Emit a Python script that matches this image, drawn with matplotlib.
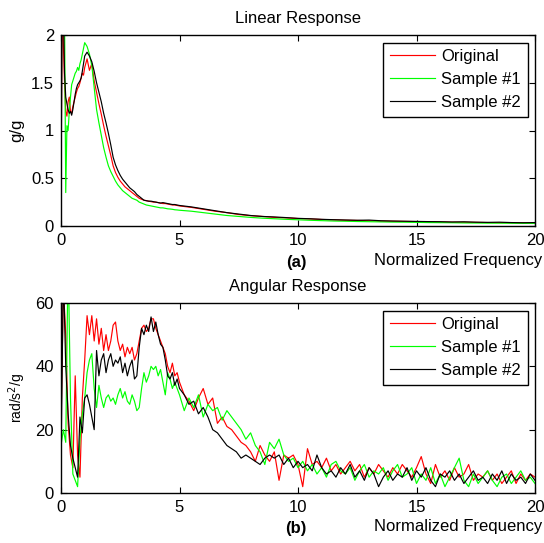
import numpy as np
import matplotlib
matplotlib.use("Agg")
import matplotlib.pyplot as plt
from matplotlib.ticker import FormatStrFormatter

plt.rcParams['font.family'] = ['Liberation Sans', 'DejaVu Sans']

# ---------------- data ----------------
series_names = ["Original", "Sample #1", "Sample #2"]
series_colors = ["#ff0000", "#00ff00", "#000000"]

# Linear response: frequency samples
freq_lin = np.round(np.concatenate([np.arange(0, 1.0001, 0.05),
                                    np.arange(1.1, 5.0001, 0.1),
                                    np.arange(5.5, 20.0001, 0.5)]), 3)

lin_original = [0.30, 2.50, 1.90, 1.50, 1.20, 1.15, 1.30, 1.35, 1.20, 1.18, 1.25, 1.30, 1.35, 1.40, 1.44, 1.46, 1.50, 1.55, 1.60, 1.58, 1.66,
                1.75, 1.63, 1.70, 1.52, 1.40, 1.28, 1.17, 1.05, 0.94, 0.84, 0.74, 0.63, 0.56, 0.51, 0.47, 0.44, 0.41, 0.39, 0.37, 0.35,
                0.33, 0.31, 0.29, 0.28, 0.27, 0.265, 0.26, 0.255, 0.25, 0.25, 0.245, 0.24, 0.235, 0.235, 0.23, 0.225, 0.22, 0.22, 0.215, 0.21,
                0.195, 0.175, 0.155, 0.14, 0.12, 0.108, 0.10, 0.09, 0.085, 0.078, 0.074, 0.068, 0.065, 0.06, 0.058, 0.055, 0.052, 0.05,
                0.048, 0.046, 0.044, 0.042, 0.04, 0.039, 0.038, 0.036, 0.035, 0.034, 0.033, 0.032]
lin_sample1 = [2.40, 2.80, 2.60, 2.20, 0.35, 1.05, 1.00, 1.20, 1.35, 1.48, 1.52, 1.56, 1.60, 1.62, 1.66, 1.63, 1.70, 1.74, 1.80, 1.86, 1.92,
               1.88, 1.80, 1.68, 1.45, 1.22, 1.08, 0.95, 0.82, 0.72, 0.63, 0.57, 0.52, 0.47, 0.43, 0.40, 0.37, 0.35, 0.33, 0.31, 0.29,
               0.28, 0.27, 0.25, 0.24, 0.23, 0.22, 0.215, 0.21, 0.205, 0.20, 0.195, 0.19, 0.19, 0.185, 0.18, 0.178, 0.175, 0.17, 0.168, 0.165,
               0.155, 0.14, 0.125, 0.11, 0.10, 0.09, 0.082, 0.076, 0.07, 0.065, 0.06, 0.056, 0.052, 0.05, 0.047, 0.045, 0.043, 0.041,
               0.04, 0.038, 0.036, 0.035, 0.034, 0.032, 0.031, 0.03, 0.03, 0.029, 0.028, 0.028]
lin_sample2 = [0.10, 2.60, 2.30, 1.60, 1.35, 1.28, 1.22, 1.18, 1.20, 1.16, 1.22, 1.30, 1.38, 1.44, 1.48, 1.50, 1.52, 1.55, 1.62, 1.70, 1.78,
               1.82, 1.78, 1.72, 1.62, 1.50, 1.40, 1.30, 1.18, 1.08, 0.97, 0.85, 0.72, 0.64, 0.58, 0.53, 0.49, 0.46, 0.43, 0.40, 0.38,
               0.36, 0.33, 0.31, 0.29, 0.27, 0.265, 0.26, 0.26, 0.255, 0.25, 0.245, 0.24, 0.245, 0.24, 0.235, 0.23, 0.225, 0.225, 0.22, 0.215,
               0.20, 0.18, 0.16, 0.14, 0.125, 0.11, 0.10, 0.095, 0.088, 0.08, 0.076, 0.07, 0.066, 0.063, 0.06, 0.062, 0.055, 0.052,
               0.05, 0.048, 0.046, 0.045, 0.042, 0.044, 0.04, 0.038, 0.04, 0.036, 0.034, 0.036]

# Angular response: frequency samples
freq_ang = np.round(np.concatenate([np.arange(0, 5.0001, 0.1),
                                    np.arange(5.2, 20.0001, 0.2)]), 3)

ang_original = [20, 65, 50, 22, 12, 8, 37, 12, 5, 30, 42, 56, 50, 56, 48, 55, 47, 52, 45, 50, 45, 48, 53, 54, 48,
                45, 47, 43, 46, 44, 46, 42, 44, 48, 52, 53, 51, 52, 55, 55, 52, 50, 48, 46, 44, 40, 38, 41, 37, 38, 35,
                31, 29, 26, 30, 33, 28, 30, 22, 24, 21, 20, 18, 16, 15, 13, 10, 15, 12, 10, 13, 4, 12, 11, 12, 9,
                2, 14, 9, 10, 8, 11, 7, 9, 6, 8, 10, 7, 9, 5, 8, 6, 9, 7, 5, 8, 6, 9, 7, 5, 8,
                11.5, 6, 3, 9, 5, 7, 4, 8, 5, 6, 9, 4, 6, 5, 7, 4, 6, 3, 5, 7, 3, 6, 4, 6, 5]
ang_sample1 = [15, 20, 16, 75, 30, 6, 4, 2, 17, 25, 30, 38, 42, 44, 33, 27, 34, 30, 27, 30, 31, 29, 30, 28, 31,
               33, 30, 32, 29, 28, 31, 29, 26, 27, 33, 38, 35, 37, 40, 39, 40, 37, 39, 35, 31, 38, 36, 33, 35, 33, 31,
               26, 30, 27, 31, 24, 28, 26, 27, 23, 26, 24, 22, 20, 17, 19, 15, 13, 9, 16, 14, 17, 12, 10, 11, 8,
               10, 7, 9, 6, 8, 5, 9, 10, 7, 6, 8, 4, 7, 9, 5, 7, 6, 8, 4, 7, 9, 5, 6, 8, 3,
               6, 4, 8, 3, 6, 2, 5, 8, 11, 4, 2, 6, 3, 5, 7, 4, 2, 5, 6, 3, 5, 7, 4, 5, 3]
ang_sample2 = [10, 70, 40, 25, 15, 11, 8, 5, 24, 19, 30, 31, 28, 24, 20, 45, 37, 42, 44, 38, 42, 44, 40, 42, 41,
               43, 38, 41, 37, 40, 42, 36, 37, 46, 52, 50, 53, 51, 55.6, 51, 54, 50, 47, 46, 42, 37, 36, 38, 34, 36, 33,
               31, 28, 29, 25, 27, 24, 20, 19, 17, 15, 14, 13, 11, 12, 11, 10, 9, 11, 12, 11, 12, 9, 11, 8, 10,
               8, 9, 7, 12, 8, 6, 7, 5, 8, 6, 9, 5, 7, 4, 8, 6, 2, 5, 7, 4, 6, 5, 8, 4, 7,
               5, 8, 4, 2, 6, 5, 7, 4, 6, 3, 5, 7, 4, 5, 3, 6, 4, 7, 3, 6, 4, 5, 3, 6, 4]

x_ticks = [0, 5, 10, 15, 20]
lin_yticks = [0, 0.5, 1, 1.5, 2]
ang_yticks = [0, 20, 40, 60]

# ---------------- figure ----------------
W, H = 544, 543
fig = plt.figure(figsize=(W / 100, H / 100), dpi=100)
ax1 = fig.add_axes([61 / W, 1 - 226 / H, 474 / W, 191 / H])
ax2 = fig.add_axes([61 / W, 1 - 493 / H, 474 / W, 190 / H])

FS = 12

def style(ax, yticks, ylim):
    ax.set_xlim(0, 20)
    ax.set_ylim(*ylim)
    ax.set_xticks(x_ticks)
    ax.set_yticks(yticks)
    ax.yaxis.set_major_formatter(FormatStrFormatter('%g'))
    ax.tick_params(direction='in', top=True, right=True, length=4, width=0.8,
                   labelsize=FS, pad=5)
    for s in ax.spines.values():
        s.set_linewidth(1.0)

for ax, data, yt, yl in [(ax1, [lin_original, lin_sample1, lin_sample2], lin_yticks, (0, 2)),
                         (ax2, [ang_original, ang_sample1, ang_sample2], ang_yticks, (0, 60))]:
    fx = freq_lin if ax is ax1 else freq_ang
    for name, col, vals in zip(series_names, series_colors, data):
        ax.plot(fx, vals, color=col, lw=0.85, label=name)
    style(ax, yt, yl)
    leg = ax.legend(loc='upper right', bbox_to_anchor=(0.985, 0.96), fontsize=FS,
                    fancybox=False, edgecolor='black', framealpha=1,
                    handlelength=2.7, borderpad=0.4, labelspacing=0.47,
                    handletextpad=0.4, borderaxespad=0)
    leg.get_frame().set_linewidth(1.0)

# titles and labels
fig.text(298 / W, 1 - 18 / H, "Linear Response", ha='center', va='center', fontsize=FS)
fig.text(298 / W, 1 - 286 / H, "Angular Response", ha='center', va='center', fontsize=FS)
fig.text(542 / W, 1 - 261 / H, "Normalized Frequency", ha='right', va='center', fontsize=FS)
fig.text(542 / W, 1 - 527 / H, "Normalized Frequency", ha='right', va='center', fontsize=FS)
fig.text(296 / W, 1 - 262 / H, "(a)", ha='center', va='center', fontsize=FS, fontweight='bold')
fig.text(296 / W, 1 - 528 / H, "(b)", ha='center', va='center', fontsize=FS, fontweight='bold')
fig.text(17 / W, 1 - 130 / H, "g/g", ha='center', va='center', rotation=90, fontsize=FS)
fig.text(17 / W, 1 - 398 / H, "rad/s$^2$/g", ha='center', va='center', rotation=90, fontsize=10)

fig.savefig("out.png", dpi=100)
